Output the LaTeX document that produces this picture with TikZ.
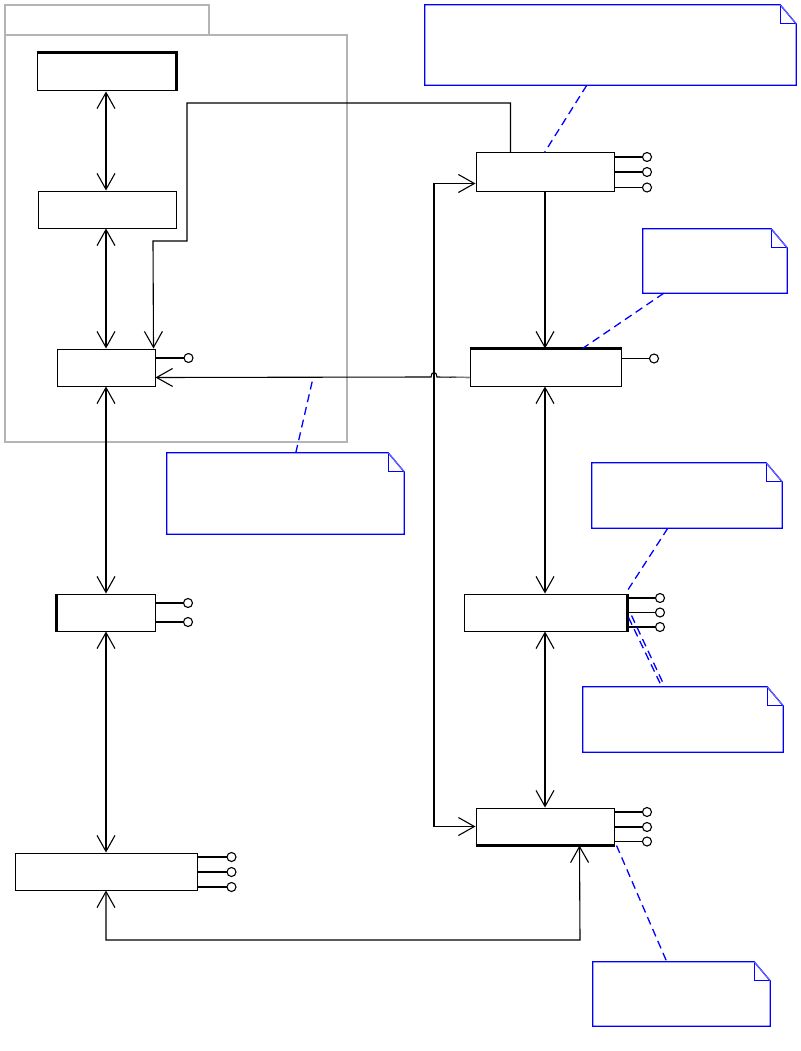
\documentclass[tikz,border=0pt]{standalone}
\usetikzlibrary{arrows.meta,calc}
\definecolor{pkg}{RGB}{180,180,180}
\definecolor{nb}{RGB}{0,0,255}
\newcommand\drawnote[1]{%
  \draw[noteline] (#1.north west) -- ([xshift=-16pt]#1.north east) -- ([yshift=-19pt]#1.north east) -- (#1.south east) -- (#1.south west) -- cycle;
  \draw[noteline] ([xshift=-16pt]#1.north east) |- ([yshift=-19pt]#1.north east);
  \draw[nb!50,line width=0.6pt] ([xshift=-16pt]#1.north east) -- ([yshift=-19pt]#1.north east);}
\newcommand\lollipop[3]{%
  \draw[conn] (#1.east |- 0,#2) -- (#3-4.5,#2);
  \draw[conn] (#3,#2) circle[radius=4.5pt];}
\begin{document}
\begin{tikzpicture}[x=1pt,y=-1pt,
  >={Straight Barb[length=16pt,width=18pt]},
  box/.style={draw=black,line width=1pt,fill=white,inner sep=0pt},
  conn/.style={draw=black,line width=1.1pt},
  thick edge/.style={draw=black,line width=2.2pt},
  noteline/.style={draw=nb,line width=1.3pt},
  notebox/.style={inner sep=0pt,draw=none},
  link/.style={draw=nb,line width=1.3pt,dash pattern=on 8pt off 5pt},
  pkgline/.style={draw=pkg,line width=1.5pt}]
\useasboundingbox (0,0) rectangle (800,1051);
% package
\draw[pkgline] (5,35) rectangle (347,442);
\draw[pkgline] (5,35) -- (5,5) -- (209,5) -- (209,35);
% boxes
\node[box,minimum width=139pt,minimum height=38pt] (A) at (106.5,72) {};
\node[box,minimum width=138pt,minimum height=37pt] (B) at (107,209.5) {};
\node[box,minimum width=98pt,minimum height=37pt] (C) at (106,367.5) {};
\node[box,minimum width=98pt,minimum height=37pt] (I) at (106,612.5) {};
\node[box,minimum width=182pt,minimum height=37pt] (H) at (106,871.5) {};
\node[box,minimum width=138pt,minimum height=38pt] (D) at (545,172) {};
\node[box,minimum width=151pt,minimum height=37pt] (E) at (545.5,367.5) {};
\node[box,minimum width=163pt,minimum height=37pt] (F) at (545.5,612.5) {};
\node[box,minimum width=138pt,minimum height=37pt] (G) at (545,826.5) {};
% thick edges
\draw[thick edge] (A.north west) -- (A.north east) -- (A.south east);
\draw[thick edge] (E.north west) -- (E.north east);
\draw[thick edge] (F.north east) -- (F.south east);
\draw[thick edge] (G.south west) -- (G.south east);
\draw[thick edge] (I.north west) -- (I.south west);
% lollipops
\lollipop{C}{358}{188.5}
\lollipop{I}{603}{188}
\lollipop{I}{622}{188}
\lollipop{H}{857}{231.5}
\lollipop{H}{872}{231.5}
\lollipop{H}{887}{231.5}
\lollipop{D}{157}{647}
\lollipop{D}{172}{647}
\lollipop{D}{187.5}{647}
\lollipop{E}{358.5}{654}
\lollipop{F}{598}{660}
\lollipop{F}{612.5}{660}
\lollipop{F}{627}{660}
\lollipop{G}{812}{647}
\lollipop{G}{827}{647}
\lollipop{G}{841.5}{647}
% connectors
\coordinate (k1) at (187,103);
\coordinate (k2) at (153,241);
\coordinate (k3) at (434,500);
\coordinate (k4) at (580,940);
\draw[conn,<->] (A.south -| 106,0) -- (B.north -| 106,0);
\draw[conn,<->] (B.south -| 106,0) -- (C.north);
\draw[conn,<->] (C.south) -- (I.north);
\draw[conn,<->] (I.south) -- (H.north);
\draw[conn,->] (D.south) -- (E.north -| 545,0);
\draw[conn,<->] (E.south -| 545,0) -- (F.north -| 545,0);
\draw[conn,<->] (F.south -| 545,0) -- (G.north);
\draw[conn,->] ($(D.north west)+(35,0)$) |- (k1) |- (k2) -- ($(C.north east)+(-2,0)$);
\draw[conn,<->] ($(D.south west)+(0,-8)$) -| (k3) |- (G.west);
\draw[conn,<->] (H.south) |- (k4) -- ($(G.south west)+(104,0)$);
\draw[conn,->] ($(E.south west)+(0,-9)$) -- (437,377) .. controls (437,371) and (431,371) .. (431,377) -- ($(C.south east)+(0,-9)$);
\draw[draw=gray,line width=1.2pt] (451,377) -- ($(E.south west)+(0,-9)$);
% notes
\node[notebox,minimum width=371pt,minimum height=80pt] (n1) at (610.5,45) {};
\node[notebox,minimum width=144pt,minimum height=64pt] (n2) at (715,261) {};
\node[notebox,minimum width=237pt,minimum height=81pt] (n3) at (285.5,493.5) {};
\node[notebox,minimum width=190pt,minimum height=65pt] (n4) at (687,495.5) {};
\node[notebox,minimum width=200pt,minimum height=65pt] (n5) at (683,719.5) {};
\node[notebox,minimum width=177pt,minimum height=64pt] (n6) at (681.5,994) {};
\drawnote{n1}
\drawnote{n2}
\drawnote{n3}
\drawnote{n4}
\drawnote{n5}
\drawnote{n6}
% note links
\draw[link] ($(n1.south west)+(162,0)$) -- ($(D.north west)+(69,0)$);
\draw[link] ($(n2.south west)+(21,0)$) -- ($(E.north west)+(113,0)$);
\draw[link] ($(n3.north west)+(129,0)$) -- (313,378);
\draw[link] ($(n4.south west)+(76,0)$) -- ($(F.north east)+(0,-3)$);
\draw[link] ($(F.south east)+(1,-14)$) -- ($(n5.north west)+(79,0)$);
\draw[link] ($(F.south east)+(4,-16)$) -- ($(n5.north west)+(82,0)$);
\draw[link] ($(G.south east)+(2,0)$) -- ($(n6.north west)+(74,0)$);
\end{tikzpicture}
\end{document}
